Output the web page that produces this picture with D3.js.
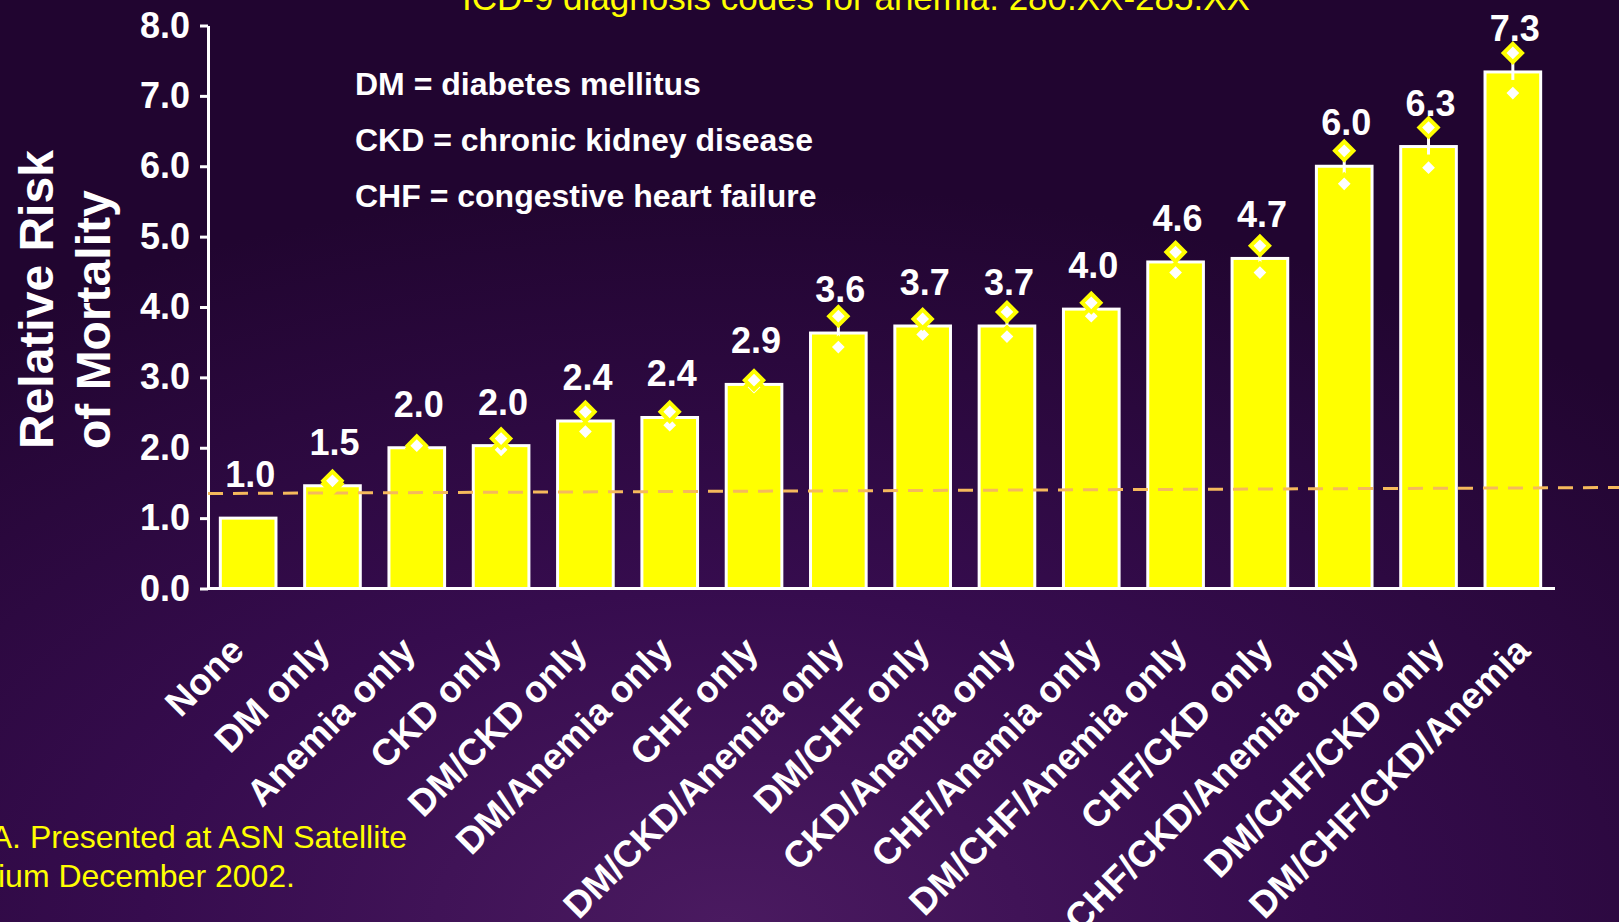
<!DOCTYPE html>
<html lang="en">
<head>
  <meta charset="UTF-8">
  <title>Relative risk of mortality</title>
  <script src="https://d3js.org/d3.v7.min.js"></script>
  <style>
    body { margin: 0; background: #220630; }
    svg { display: block; font-family: "Liberation Sans", Arial, sans-serif; }
  </style>
</head>
<body>
<div class="main"></div>
<script>
  let width = 1619;
  let height = 922;

  let categories = ["None", "DM only", "Anemia only", "CKD only", "DM/CKD only", "DM/Anemia only",
    "CHF only", "DM/CKD/Anemia only", "DM/CHF only", "CKD/Anemia only", "CHF/Anemia only",
    "DM/CHF/Anemia only", "CHF/CKD only", "CHF/CKD/Anemia only", "DM/CHF/CKD only", "DM/CHF/CKD/Anemia"];
  let rrValues = [1.0, 1.46, 2.0, 2.03, 2.38, 2.43, 2.9, 3.63, 3.73, 3.73, 3.97, 4.64, 4.69, 6.0, 6.28, 7.34];
  let ciUpper = [null, 1.53, 2.03, 2.13, 2.51, 2.51, 2.96, 3.87, 3.83, 3.93, 4.06, 4.78, 4.87, 6.22, 6.55, 7.61];
  let ciLower = [null, 1.49, 1.99, 1.97, 2.23, 2.32, 2.86, 3.43, 3.61, 3.58, 3.87, 4.49, 4.49, 5.75, 5.98, 7.04];
  let yTicks = [0, 1, 2, 3, 4, 5, 6, 7, 8];
  let refLine = [1.35, 1.435];   // dashed line, left end and right end
  let legendLines = ["DM = diabetes mellitus", "CKD = chronic kidney disease", "CHF = congestive heart failure"];
  let titleText = "ICD-9 diagnosis codes for anemia: 280.XX-285.XX";
  let sourceLines = ["A. Presented at ASN Satellite", "sium December 2002."];

  let barData = categories.map((c, i) => ({ cat: c, value: rrValues[i], hi: ciUpper[i], lo: ciLower[i] }));

  let x = d3.scaleBand()
          .domain(categories)
          .range([206, 1555])
          .paddingInner(0.34)
          .paddingOuter(0.17);

  let labelX = d3.scalePoint()
          .domain(categories)
          .range([246, 1532]);

  let y = d3.scaleLinear()
          .domain([0, 8])
          .range([588.5, 25.5]);

  let svg = d3.select(".main")
          .append("svg")
          .attr("width", width)
          .attr("height", height);

  // background
  let defs = svg.append("defs");
  let grad = defs.append("radialGradient")
          .attr("id", "bg")
          .attr("cx", "45%").attr("cy", "100%").attr("r", "80%");
  grad.append("stop").attr("offset", "0%").attr("stop-color", "#4a1a60");
  grad.append("stop").attr("offset", "45%").attr("stop-color", "#360c4e");
  grad.append("stop").attr("offset", "100%").attr("stop-color", "#210530");
  svg.append("rect").attr("width", width).attr("height", height).attr("fill", "url(#bg)");

  // title (cut at top)
  svg.append("text")
          .attr("x", 462).attr("y", 10)
          .attr("fill", "#ffff00")
          .style("font-size", "35px")
          .text(titleText);

  // source note (cut at left)
  svg.append("g").selectAll("text")
          .data(sourceLines)
          .join("text")
          .attr("x", (d, i) => i == 0 ? 407 : 295)
          .attr("y", (d, i) => 848 + i * 39)
          .attr("text-anchor", "end")
          .attr("fill", "#ffff00")
          .style("font-size", "32px")
          .text(d => d);

  // y axis
  let yAxis = d3.axisLeft(y)
          .tickValues(yTicks)
          .tickFormat(d3.format(".1f"))
          .tickSize(8)
          .tickSizeOuter(0)
          .tickPadding(10);
  let yG = svg.append("g")
          .attr("transform", "translate(208,0)")
          .call(yAxis);
  yG.select(".domain").attr("stroke", "#fff").attr("stroke-width", 3);
  yG.selectAll(".tick line").attr("stroke", "#fff").attr("stroke-width", 3);
  yG.selectAll(".tick text")
          .attr("fill", "#fff")
          .style("font-size", "36px")
          .style("font-weight", "bold")
          .style("font-family", "'Liberation Sans', Arial, sans-serif");

  // y title
  svg.append("g").selectAll("text")
          .data(["Relative Risk", "of Mortality"])
          .join("text")
          .attr("transform", (d, i) => `translate(${53 + i * 57},449) rotate(-90)`)
          .attr("fill", "#fff")
          .style("font-size", "48px")
          .style("font-weight", "bold")
          .text(d => d);

  // legend text
  svg.append("g").selectAll("text")
          .data(legendLines)
          .join("text")
          .attr("x", 355)
          .attr("y", (d, i) => 95 + i * 56)
          .attr("fill", "#fff")
          .style("font-size", "32px")
          .style("font-weight", "bold")
          .text(d => d);

  // bars
  svg.append("g").selectAll("rect")
          .data(barData)
          .join("rect")
          .attr("x", d => x(d.cat))
          .attr("y", d => y(d.value))
          .attr("width", x.bandwidth())
          .attr("height", d => y(0) - y(d.value))
          .attr("fill", "#ffff00")
          .attr("stroke", "#fff")
          .attr("stroke-width", 3);

  // x axis baseline
  svg.append("line")
          .attr("x1", 208).attr("x2", x.range()[1])
          .attr("y1", y(0)).attr("y2", y(0))
          .attr("stroke", "#fff").attr("stroke-width", 3);

  // dashed reference line
  svg.append("line")
          .attr("x1", 208).attr("x2", width)
          .attr("y1", y(refLine[0])).attr("y2", y(refLine[1]))
          .attr("stroke", "#f5b95c")
          .attr("stroke-width", 3)
          .attr("stroke-dasharray", "15,10");

  // confidence intervals
  let ciData = barData.filter(d => d.hi != null);
  let cx = d => x(d.cat) + x.bandwidth() / 2;
  svg.append("g").selectAll("line")
          .data(ciData)
          .join("line")
          .attr("x1", cx).attr("x2", cx)
          .attr("y1", d => y(d.hi))
          .attr("y2", d => Math.max(y(d.hi), y(d.value) + 8))
          .attr("stroke", "#fff")
          .attr("stroke-width", 3);

  let diamond = d3.symbol().type(d3.symbolSquare).size(169);
  let ends = ciData.flatMap(d => [{ cat: d.cat, v: d.lo }, { cat: d.cat, v: d.hi }]);
  svg.append("g").selectAll("path")
          .data(ends)
          .join("path")
          .attr("d", diamond)
          .attr("transform", d => `translate(${x(d.cat) + x.bandwidth() / 2},${y(d.v)}) rotate(45)`)
          .attr("fill", "#fff")
          .attr("stroke", "#ffff00")
          .attr("stroke-width", 4);

  // value labels
  svg.append("g").selectAll("text")
          .data(barData)
          .join("text")
          .attr("x", d => x(d.cat) + x.bandwidth() / 2 + 2)
          .attr("y", d => y(d.value) - 31)
          .attr("text-anchor", "middle")
          .attr("fill", "#fff")
          .style("font-size", "36px")
          .style("font-weight", "bold")
          .text(d => d3.format(".1f")(d.value));

  // category labels
  svg.append("g").selectAll("text")
          .data(categories)
          .join("text")
          .attr("transform", d => `translate(${labelX(d)},653) rotate(-45)`)
          .attr("text-anchor", "end")
          .attr("fill", "#fff")
          .style("font-size", "37px")
          .style("font-weight", "bold")
          .text(d => d);
</script>
</body>
</html>
